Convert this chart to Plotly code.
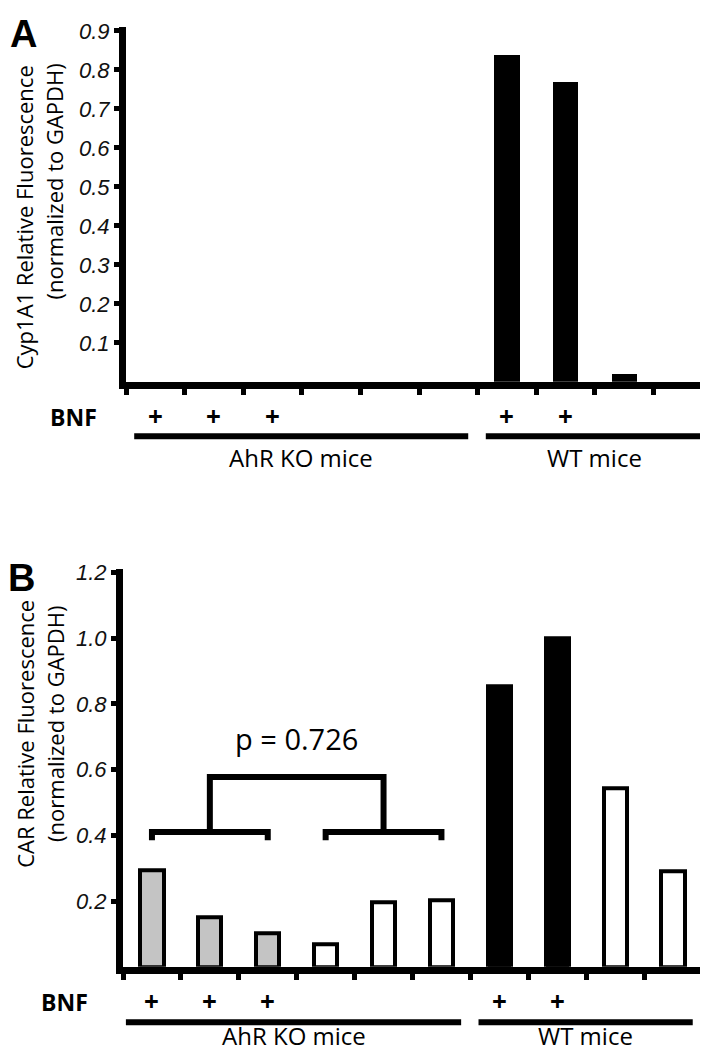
import plotly.graph_objects as go

# ---------------- data ----------------
categories = [1, 2, 3, 4, 5, 6, 7, 8, 9, 10]
bnf_treated = [True, True, True, False, False, False, True, True, False, False]
groups = [("AhR KO mice", 1, 6), ("WT mice", 7, 10)]

cyp1a1_values = [0, 0, 0, 0, 0, 0, 0.838, 0.770, 0.020, 0]
car_values = [0.295, 0.150, 0.102, 0.068, 0.196, 0.204, 0.855, 1.000, 0.545, 0.290]

a_tickvals = [0.1, 0.2, 0.3, 0.4, 0.5, 0.6, 0.7, 0.8, 0.9]
a_ticktext = ["0.1", "0.2", "0.3", "0.4", "0.5", "0.6", "0.7", "0.8", "0.9"]
b_tickvals = [0.2, 0.4, 0.6, 0.8, 1.0, 1.2]
b_ticktext = ["0.2", "0.4", "0.6", "0.8", "1.0", "1.2"]

p_value_text = "p = 0.726"
# comparison: KO+BNF (bars 1-3) vs KO control (bars 4-6)
cmp_left = (1, 3)
cmp_right = (4, 6)
bracket_level = 0.41
bracket_top = 0.578

# ---------------- styling ----------------
W, H = 708, 1050
GRAY = "#c4c4c4"
b_colors = [GRAY] * 3 + ["white"] * 3 + ["black"] * 2 + ["white"] * 2
TXT = "Open Sans"
TICKF = "Liberation Sans"


def py(pix):
    """pixel row (from top) -> paper y"""
    return 1 - pix / H


def px(pix):
    return pix / W


fig = go.Figure()

fig.add_trace(go.Bar(
    x=categories, y=cyp1a1_values, width=0.43,
    marker=dict(color="black", line=dict(width=0)),
    xaxis="x", yaxis="y", showlegend=False, hoverinfo="skip"))

fig.add_trace(go.Bar(
    x=categories, y=car_values, width=0.40,
    marker=dict(color=b_colors, line=dict(color="black", width=4)),
    xaxis="x2", yaxis="y2", showlegend=False, hoverinfo="skip"))

xcommon = dict(range=[0.5, 10.5], tickmode="array",
               tickvals=[c - 0.5 for c in categories] + [categories[-1] + 0.5],
               showticklabels=False, ticks="outside", ticklen=6, tickwidth=5,
               tickcolor="black", showline=True, linewidth=7, linecolor="black",
               showgrid=False, zeroline=False, fixedrange=True)
ycommon = dict(tickmode="array", ticks="outside", ticklen=5, tickwidth=5,
               tickcolor="black", showline=True, linewidth=7, linecolor="black",
               showgrid=False, zeroline=False, fixedrange=True,
               tickfont=dict(family=TICKF, size=22, color="#111", style="italic"))

fig.update_layout(
    width=W, height=H, autosize=False,
    margin=dict(l=0, r=0, t=0, b=0, pad=0),
    paper_bgcolor="white", plot_bgcolor="white",
    bargap=0,
    xaxis=dict(**xcommon, domain=[px(118), px(704)], anchor="y"),
    yaxis=dict(**ycommon, domain=[py(368), py(10)], range=[0, 0.91],
               tickvals=a_tickvals, ticktext=a_ticktext, anchor="x"),
    xaxis2=dict(**xcommon, domain=[px(115), px(694)], anchor="y2"),
    yaxis2=dict(**ycommon, domain=[py(958), py(557)], range=[0, 1.21],
                tickvals=b_tickvals, ticktext=b_ticktext, anchor="x2"),
)

ann = []
shapes = []


def add_text(text, x, y, size, bold=False, xref="paper", family=TXT, angle=0,
             xanchor="center", yanchor="middle"):
    ann.append(dict(text=("<b>%s</b>" % text) if bold else text, x=x, y=y,
                    xref=xref, yref="paper", showarrow=False, textangle=angle,
                    xanchor=xanchor, yanchor=yanchor,
                    font=dict(family=family, size=size, color="black")))


# panel letters
add_text("A", px(15), py(17), 38, bold=True, family="Liberation Sans")
add_text("B", px(13), py(566), 38, bold=True, family="Liberation Sans")

# y-axis titles
add_text("Cyp1A1 Relative Fluorescence", px(16), py(202), 22, angle=-90)
add_text("(normalized to GAPDH)", px(46), py(166), 22, angle=-90)
add_text("CAR Relative Fluorescence", px(17), py(723), 22, angle=-90)
add_text("(normalized to GAPDH)", px(47), py(713), 22, angle=-90)

# BNF rows and group labels
panels = [
    dict(xref="x", bnf_y=403, bnf_x=65, line_y=423, lab_y=444, left=0.64),
    dict(xref="x2", bnf_y=994, bnf_x=57, line_y=1014, lab_y=1027, left=0.55),
]
for p in panels:
    add_text("BNF", px(p["bnf_x"]), py(p["bnf_y"]), 23, bold=True)
    for c, t in zip(categories, bnf_treated):
        if t:
            add_text("+", c, py(p["bnf_y"] - 1), 26, bold=True, xref=p["xref"])
    for name, g0, g1 in groups:
        x0 = p["left"] if g0 == 1 else g0 - 0.5 + 0.14
        x1 = g1 + 0.5 - 0.16
        shapes.append(dict(type="line", xref=p["xref"], yref="paper",
                           x0=x0, x1=x1, y0=py(p["line_y"]), y1=py(p["line_y"]),
                           line=dict(color="black", width=6)))
        add_text(name, (x0 + x1) / 2, py(p["lab_y"]), 24, xref=p["xref"])

# significance brackets in panel B
tick_drop = 0.025
for a, b in (cmp_left, cmp_right):
    shapes.append(dict(type="path", xref="x2", yref="y2",
                       path="M %s,%s L %s,%s L %s,%s L %s,%s" % (
                           a, bracket_level - tick_drop, a, bracket_level,
                           b, bracket_level, b, bracket_level - tick_drop),
                       line=dict(color="black", width=6)))
mid_l = (cmp_left[0] + cmp_left[1]) / 2
mid_r = (cmp_right[0] + cmp_right[1]) / 2
shapes.append(dict(type="path", xref="x2", yref="y2",
                   path="M %s,%s L %s,%s L %s,%s L %s,%s" % (
                       mid_l, bracket_level, mid_l, bracket_top,
                       mid_r, bracket_top, mid_r, bracket_level),
                   line=dict(color="black", width=6)))
ann.append(dict(text=p_value_text, x=(mid_l + mid_r) / 2, y=bracket_top + 0.05,
                xref="x2", yref="y2", showarrow=False, yanchor="bottom",
                font=dict(family=TXT, size=29, color="black")))

fig.update_layout(annotations=ann, shapes=shapes)
fig.write_html("out.html")
